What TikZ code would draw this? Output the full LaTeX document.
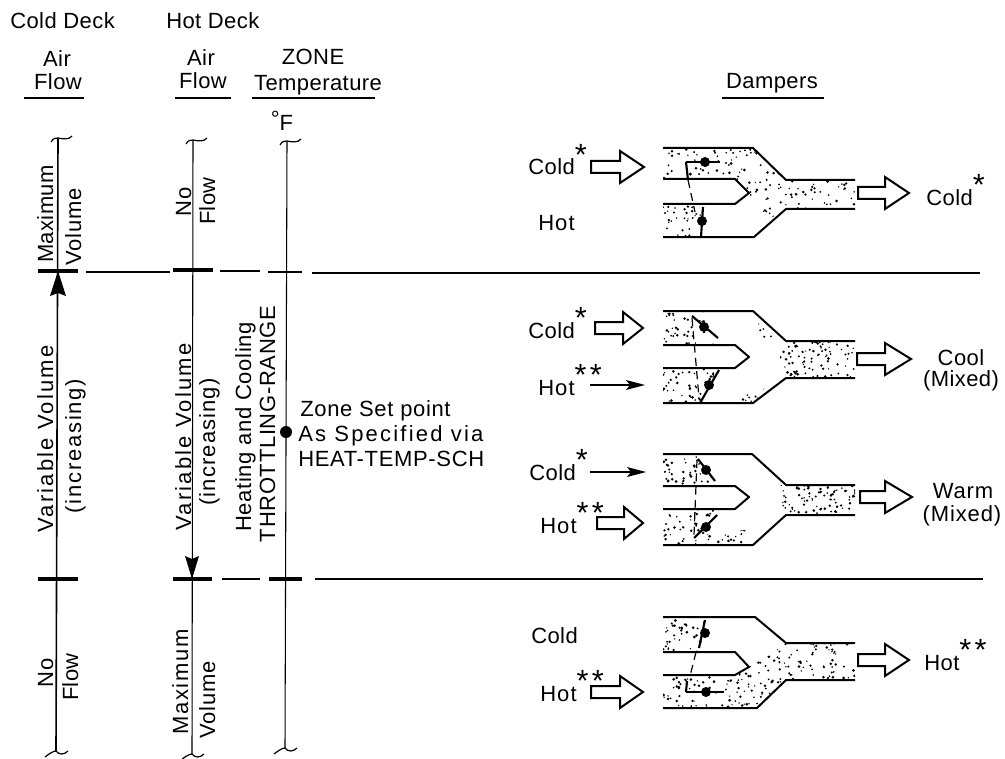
\documentclass[tikz,border=0pt]{standalone}
\usepackage{fontspec}
\setmainfont{Liberation Sans}[LetterSpace=2]
\newcommand{\strk}{\smash{\raisebox{7pt}{\fontsize{23}{23}\selectfont *}}}
\newcommand{\twostrk}{\strk\hspace{2.5pt}\strk}
\newcommand{\lsp}[1]{\addfontfeature{LetterSpace=#1}}
\newcommand{\stip}[6]{%
  \begin{scope}\clip #1;
  \foreach \ii in {1,...,#6}{%
    \pgfmathsetmacro{\xx}{#2+#4*rnd}\pgfmathsetmacro{\yy}{#3+#5*rnd}\pgfmathsetmacro{\rr}{0.7+0.8*rnd}%
    \fill (\xx,\yy) circle[radius=\rr];}
  \end{scope}}
\newcommand{\blockarrow}[4]{%
  \draw[wall,fill=white,line join=miter] (#1,#4-6) -- (#2,#4-6) -- (#2,#4-16) -- (#3,#4) -- (#2,#4+16) -- (#2,#4+6) -- (#1,#4+6) -- cycle;}
\newcommand{\duct}[9]{%
  \draw[wall] (663,#1) -- (#8,#1) -- (786,#2) -- (855,#2);
  \draw[wall] (663,#4) -- (#9,#4) -- (786,#3) -- (855,#3);
  \draw[wall] (663,#5) -- (735,#5) -- (749,#6) -- (735,#7) -- (663,#7);}
\newcommand{\blade}[6]{%
  \draw[bladeline] (#1,#2) -- (#3,#4);
  \fill (#5,#6) circle[radius=5];}
\newcommand{\thinarr}[3]{%
  \draw[thinarrow] (#1,#3) -- (#2-15,#3);
  \fill (#2-19,#3-5) -- (#2,#3) -- (#2-19,#3+5) -- (#2-15,#3) -- cycle;}
\tikzset{
  txt/.style={font=\fontsize{16.5}{18}\selectfont,inner sep=0pt,text=black,text height=12pt,text depth=0pt},
  rtxt/.style={txt,rotate=90},
  ltxt/.style={txt,anchor=west},
  wall/.style={line width=1.5pt,line join=round},
  bladeline/.style={line width=1.6pt},
  link/.style={line width=.9pt,dash pattern=on 6pt off 4pt},
  axisline/.style={line width=.8pt},
  tickline/.style={line width=2.5pt},
  ruleline/.style={line width=1.2pt},
  lvl/.style={line width=1pt},
  wig/.style={line width=.9pt},
  thinarrow/.style={line width=1.1pt}
}
\begin{document}
\begin{tikzpicture}[x=0.75pt,y=-0.75pt]
\useasboundingbox (0,0) rectangle (1005,759);
\pgfmathsetseed{4242}
% stipple
\stip{(663,148)--(753,148)--(786,180)--(855,180)--(855,209)--(785,209)--(765,222)--(749,193)--(735,179)--(663,179)--cycle}{663}{148}{192}{74}{270}
\stip{(663,204)--(703,204)--(703,237)--(663,237)--cycle}{663}{204}{40}{33}{32}
\stip{(663,311)--(712,311)--(720,345)--(663,345)--cycle}{663}{311}{57}{34}{42}
\stip{(750,315)--(785,341)--(772,350)--(752,335)--cycle}{750}{315}{36}{35}{14}
\stip{(663,368)--(718,368)--(700,403)--(663,403)--cycle}{663}{368}{55}{35}{48}
\stip{(745,380)--(765,388)--(753,403)--(740,403)--cycle}{740}{380}{25}{23}{12}
\stip{(780,341)--(855,341)--(855,378)--(780,378)--cycle}{780}{341}{75}{37}{90}
\stip{(663,454)--(703,454)--(712,486)--(663,486)--cycle}{663}{454}{50}{32}{36}
\stip{(663,509)--(715,509)--(700,545)--(663,545)--cycle}{663}{509}{52}{36}{45}
\stip{(702,535)--(745,530)--(753,545)--(702,545)--cycle}{702}{530}{51}{15}{22}
\stip{(780,485)--(855,485)--(855,515)--(780,515)--cycle}{780}{485}{75}{30}{80}
\stip{(663,617)--(705,617)--(700,652)--(663,652)--cycle}{663}{617}{42}{35}{38}
\stip{(663,675)--(735,675)--(749,667)--(770,655)--(786,643)--(855,643)--(855,680)--(786,680)--(757,708)--(663,708)--cycle}{663}{643}{192}{65}{300}
% ducts
\duct{148}{180}{209}{237}{179}{193}{204}{753}{754}
\duct{311}{341}{378}{403}{345}{357}{368}{753}{753}
\duct{454}{485}{515}{545}{486}{497}{509}{752}{753}
\duct{617}{643}{680}{708}{652}{667}{675}{755}{757}
% blades
\blade{686}{162}{720}{162}{705}{162}
\draw[bladeline] (686,162) -- (688,180);
\draw[link] (688,180) -- (695,212);
\blade{701}{237}{703}{207}{702}{221}
\blade{692}{316}{718}{338}{704}{327}
\draw[link] (692,318) -- (699,398);
\blade{700}{403}{719}{370}{709}{385}
\blade{698}{459}{715}{481}{706}{470}
\draw[link] (697,460) -- (694,535);
\blade{694}{538}{717}{515}{706}{527}
\blade{705}{620}{699}{648}{705}{633}
\draw[link] (696,652) -- (690,676);
\blade{686}{692}{724}{692}{706}{692}
\draw[bladeline] (686,692) -- (687,681);
% air arrows
\blockarrow{591}{620}{644}{167}
\blockarrow{595}{623}{643}{328}
\blockarrow{597}{624}{643}{523}
\blockarrow{591}{620}{643}{692}
\blockarrow{858}{885}{909}{193}
\blockarrow{857}{885}{911}{359}
\blockarrow{860}{885}{912}{497}
\blockarrow{858}{885}{909}{660}
\thinarr{590}{645}{385}
\thinarr{590}{646}{472}
% axes
\coordinate (cT) at (58,138); \coordinate (cB) at (56,751);
\coordinate (hT) at (193,140); \coordinate (hB) at (192,754);
\coordinate (zT) at (287,141); \coordinate (zB) at (285,748);
\draw[axisline,line width=1.2pt] (cT) -- (cB);
\draw[axisline] (hT) -- (hB);
\draw[axisline] (zT) -- (zB);
\foreach \p in {cT,hT,zT}{
  \draw[wig,shift={(\p)}] (-7,4) .. controls (-5,0) and (-2,0) .. (0,0) .. controls (5,1) and (11,2) .. (14,-2);
}
\foreach \p in {cB,hB,zB}{
  \draw[wig,shift={(\p)}] (-11,6) .. controls (-7,3) and (-3,0) .. (0,0) .. controls (3,4) and (8,4) .. (12,0);
}
\fill (58,271) -- (50,296) -- (58,293) -- (66,296) -- cycle;
\fill (192,579) -- (185,556) -- (192,559) -- (199,556) -- cycle;
% horizontal levels
\draw[tickline] (38,271) -- (78,271);
\draw[tickline] (173,270) -- (213,270);
\draw[lvl,line width=1.5pt] (268,272) -- (302,272);
\draw[lvl] (86,272) -- (170,272);
\draw[lvl] (220,271) -- (260,271);
\draw[lvl] (312,273) -- (980,273);
\draw[tickline] (38,579) -- (78,579);
\draw[tickline] (173,579) -- (212,579);
\draw[tickline] (269,579) -- (302,579);
\draw[lvl,line width=1.5pt] (222,579) -- (260,579);
\draw[lvl] (315,579) -- (983,579);
% header rules
\draw[ruleline] (24,98) -- (84,98);
\draw[ruleline] (175,98) -- (231,98);
\draw[ruleline] (252,98) -- (375,98);
\draw[ruleline] (722,98) -- (824,98);
% headers
\node[ltxt] (tCD) at (10,21) {Cold Deck};
\node[ltxt] (tHD) at (166,21) {Hot Deck};
\node[txt] (tA1) at (57,59) {Air};
\node[txt] (tF1) at (58,82) {Flow};
\node[txt] (tA2) at (201,58) {Air};
\node[txt] (tF2) at (203,81) {Flow};
\node[txt] (tZ) at (313,57) {ZONE};
\node[txt] (tT) at (318,83) {Temperature};
\node[txt] (tD) at (772,81) {Dampers};
\node[txt] (tFF) at (282,123) {\raisebox{3pt}{°}F};
% rotated labels
\node[rtxt] (m1) at (45,214) {Maximum};
\node[rtxt] (v1) at (73,227) {\lsp{4}Volume};
\node[rtxt] (n1) at (183,202) {No};
\node[rtxt] (f1) at (207,201) {Flow};
\node[rtxt] (vv1) at (45,439) {\lsp{10}Variable Volume};
\node[rtxt] (i1) at (73,446) {\lsp{8}(increasing)};
\node[rtxt] (vv2) at (183,437) {\lsp{10}Variable Volume};
\node[rtxt] (i2) at (207,442) {\lsp{5}(increasing)};
\node[rtxt] (hc) at (243,427) {\lsp{3}Heating and Cooling};
\node[rtxt] (tr) at (267,424) {\lsp{3}THROTTLING-RANGE};
\node[rtxt] (n2) at (45,673) {No};
\node[rtxt] (f2) at (70,677) {Flow};
\node[rtxt] (m2) at (180,682) {\lsp{8}Maximum};
\node[rtxt] (v2) at (207,700) {\lsp{4}Volume};
% zone set point
\node[circle,fill=black,inner sep=0pt,minimum size=9pt] (sp) at (286,432) {};
\node[ltxt] (z1) at (300,408) {\lsp{3}Zone Set point};
\node[ltxt] (z2) at (298,433) {\lsp{10}As Specified via};
\node[ltxt] (z3) at (298,458) {\lsp{3}HEAT-TEMP-SCH};
% flow labels
\node[ltxt] (l1) at (528,167) {Cold\strk};
\node[ltxt] (l2) at (538,222) {\lsp{5}Hot};
\node[ltxt] (l3) at (528,330) {Cold\strk};
\node[ltxt] (l4) at (538,387) {\lsp{5}Hot\twostrk};
\node[ltxt] (l5) at (529,472) {Cold\strk};
\node[ltxt] (l6) at (540,525) {\lsp{5}Hot\twostrk};
\node[ltxt] (l7) at (531,635) {Cold};
\node[ltxt] (l8) at (540,693) {\lsp{5}Hot\twostrk};
\node[ltxt] (o1) at (926,197) {Cold\strk};
\node[txt] (o2) at (961,357) {Cool};
\node[txt] (o3) at (961,378) {(Mixed)};
\node[txt] (o4) at (963,490) {\lsp{4}Warm};
\node[txt] (o5) at (962,513) {\lsp{4}(Mixed)};
\node[ltxt] (o6) at (924,662) {Hot\twostrk};
\end{tikzpicture}
\end{document}
